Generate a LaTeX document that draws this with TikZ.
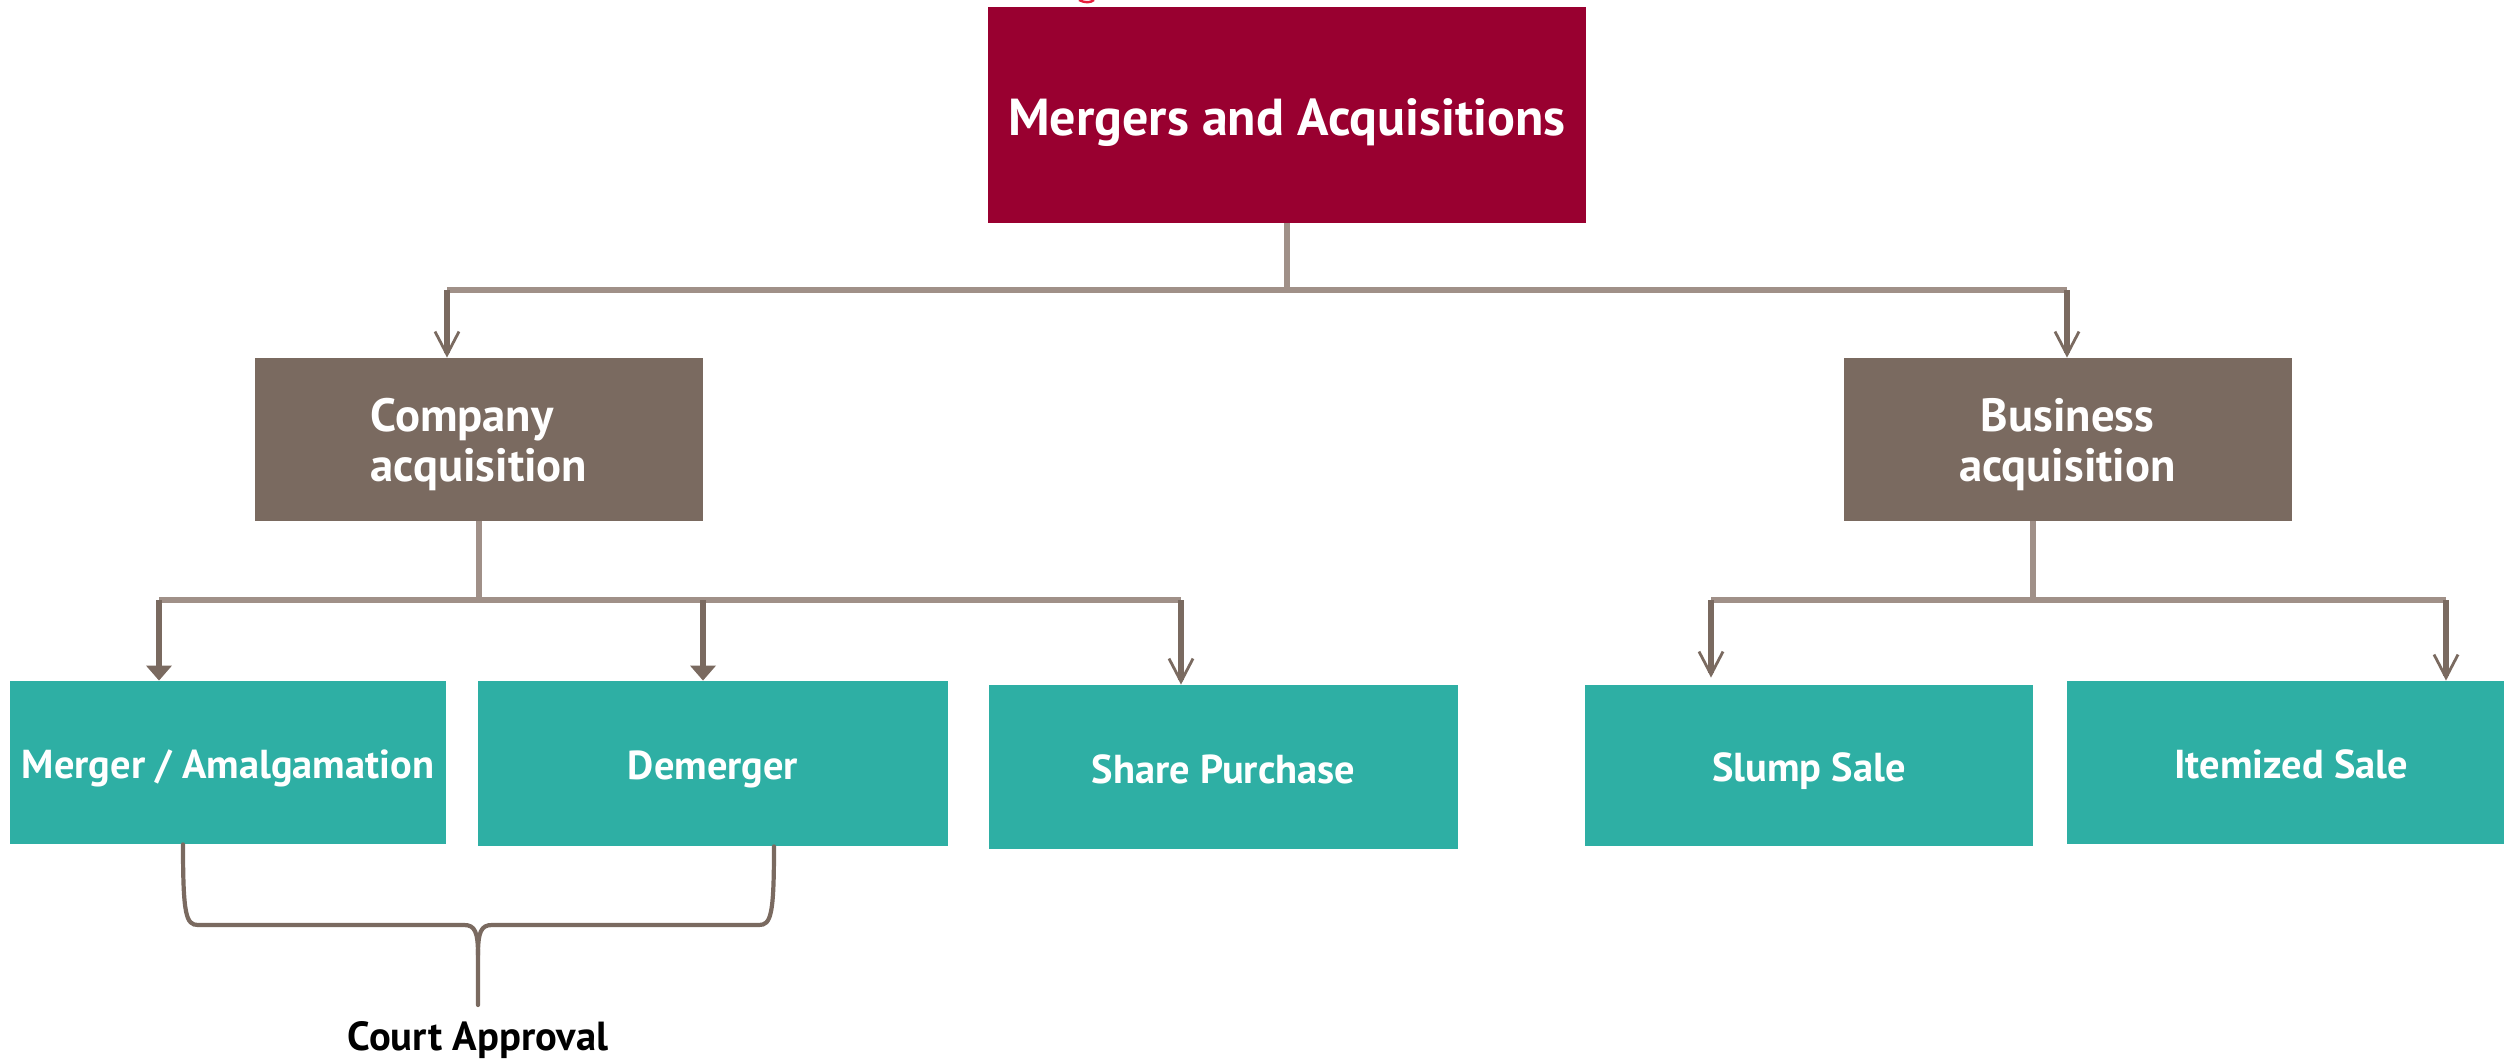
\documentclass[tikz,border=0pt]{standalone}
\usepackage{fontspec}
\setmainfont{PT Sans}
\usetikzlibrary{arrows.meta,calc}
\definecolor{crim}{RGB}{153,0,48}
\definecolor{brn}{RGB}{122,106,96}
\definecolor{lnc}{RGB}{160,144,136}
\definecolor{tealb}{RGB}{46,175,164}
\definecolor{redbit}{RGB}{230,30,60}
\begin{document}
\begin{tikzpicture}[x=0.5pt,y=-0.5pt,
  anybox/.style={rectangle, inner sep=0pt, text=white},
  topbox/.style={anybox, fill=crim, minimum width=299pt, minimum height=108pt,
    font=\bfseries\fontsize{26}{29}\selectfont, text height=20.8pt, text depth=0pt},
  midbox/.style={anybox, fill=brn, minimum width=224pt, minimum height=81.5pt,
    font=\bfseries\fontsize{23.3}{25}\selectfont, text depth=0pt},
  leafbox/.style={anybox, fill=tealb, minimum height=81.5pt,
    font=\bfseries\fontsize{20.2}{23}\selectfont, text height=16.2pt, text depth=0pt},
  ln/.style={draw=lnc, line width=2.7pt},
  oarr/.style={draw=brn, line width=2.6pt, -{Straight Barb[length=11.5pt,width=12pt,line width=1.4pt]}},
  farr/.style={draw=brn, line width=2.6pt, -{Triangle[length=7.5pt,width=12.5pt]}},
  bracestyle/.style={draw=brn, line width=2.1pt, line cap=round},
  courtlabel/.style={font=\bfseries\fontsize{20.3}{23}\selectfont, text=black, inner sep=0pt}
]
\useasboundingbox (0,0) rectangle (2504,1059);
\fill[white] (0,0) rectangle (2504,1059);
\clip (0,0) rectangle (2504,1059);

% small red fragment at the top edge
\draw[redbit, line width=1.2pt] (1079,0) .. controls (1085,3) and (1090,3) .. (1094,0);

% boxes
\node[topbox] (top) at (1287,115) {Mergers and Acquisitions};
\node[midbox, align=left] (comp) at (479,439.5) {Company\\acquisition};
\node[midbox, align=center] (bus) at (2067.5,439.5) {Business\\acquisition};
\node[leafbox, minimum width=218pt] (merger) at (228,762.5) {Merger / Amalgamation};
\node[leafbox, minimum width=235pt, minimum height=82.5pt] (demerger) at (713,763.5) {Demerger};
\node[leafbox, minimum width=234.5pt, minimum height=82pt] (share) at (1223.5,767) {Share Purchase};
\node[leafbox, minimum width=224pt, minimum height=80.5pt] (slump) at (1809,765.5) {Slump Sale};
\node[leafbox, minimum width=224pt] (item) at (2291,762.5) {Itemized Sale};

% level 1 connectors
\coordinate (h1) at (447,290);
\coordinate (h2) at (2067,290);
\draw[ln] (top.south) -- (top.south |- h1);
\draw[ln] (h1) -- (h2);
\draw[oarr] (h1) -- (h1 |- comp.north);
\draw[oarr] (h2) -- (h2 |- bus.north);

% company connectors
\coordinate (m1) at (159,600);
\coordinate (m2) at (703,600);
\coordinate (m3) at (1181,600);
\draw[ln] (comp.south) -- (comp.south |- m1);
\draw[ln] (m1) -- (m3);
\draw[farr] (m1) -- (m1 |- merger.north);
\draw[farr] (m2) -- (m2 |- demerger.north);
\draw[oarr] (m3) -- (m3 |- share.north);

% business connectors
\coordinate (bs) at (2033,600);
\coordinate (s1) at (1711,600);
\coordinate (s2) at (2446,600);
\draw[ln] (bs |- bus.south) -- (bs);
\draw[ln] (s1) -- (s2);
\draw[oarr, shorten >=3.5pt] (s1) -- (s1 |- slump.north);
\draw[oarr] (s2) -- (s2 |- item.north);

% brace
\coordinate (bl) at ($(merger.south)+(-45,0)$);
\coordinate (br) at ($(demerger.south)+(61,0)$);
\coordinate (btip) at (478,1005);
\draw[bracestyle] (bl) .. controls (183,915) and (186,925) .. (198,925) -- (464,925)
  .. controls (475,925) and (478,932) .. (478,955) -- (btip);
\draw[bracestyle] (br) .. controls (774,915) and (771,925) .. (759,925) -- (492,925)
  .. controls (481,925) and (478,932) .. (478,955);
\node[courtlabel, anchor=base] (court) at (478,1050) {Court Approval};
\end{tikzpicture}
\end{document}
